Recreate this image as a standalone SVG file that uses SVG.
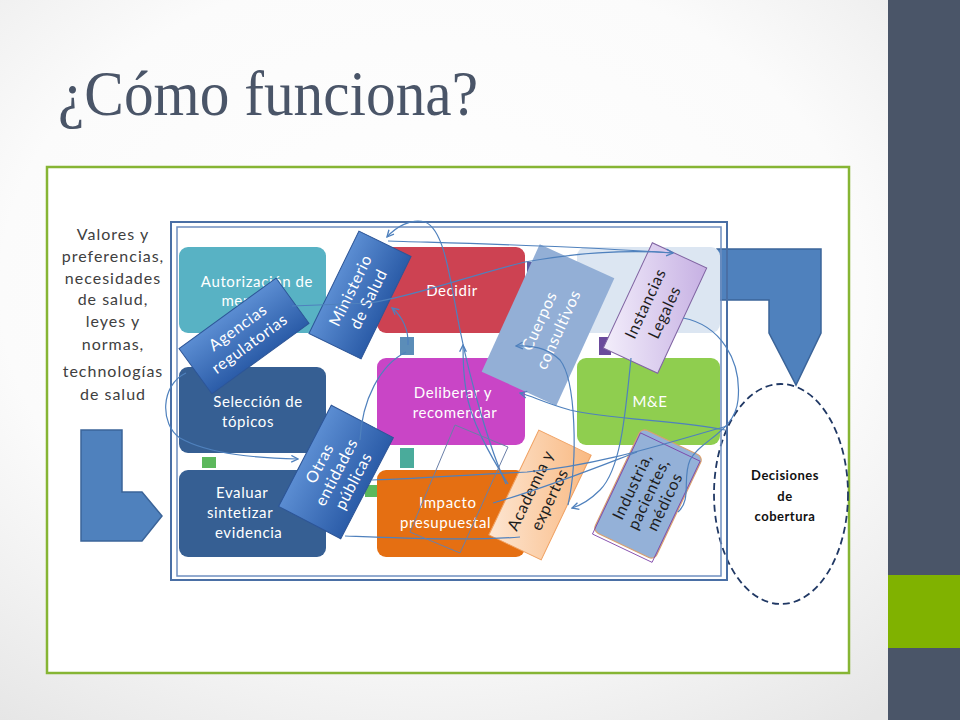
<svg xmlns="http://www.w3.org/2000/svg" width="960" height="720" viewBox="0 0 960 720">
<defs>
  <radialGradient id="bg" cx="0.45" cy="0.4" r="0.75">
    <stop offset="0" stop-color="#ffffff"/>
    <stop offset="0.6" stop-color="#fbfbfb"/>
    <stop offset="1" stop-color="#e6e6e6"/>
  </radialGradient>
  <linearGradient id="gBlue" x1="0" y1="0" x2="0" y2="1">
    <stop offset="0" stop-color="#5b8dd2"/>
    <stop offset="1" stop-color="#2b5ca8"/>
  </linearGradient>
  <linearGradient id="gLav" x1="0" y1="0" x2="1" y2="1">
    <stop offset="0" stop-color="#f3eefb"/>
    <stop offset="1" stop-color="#c6b0e3"/>
  </linearGradient>
  <linearGradient id="gPeach" x1="0" y1="0" x2="1" y2="1">
    <stop offset="0" stop-color="#fde6d2"/>
    <stop offset="1" stop-color="#f9b982"/>
  </linearGradient>
  <marker id="arr" viewBox="0 0 10 10" refX="9" refY="5" markerWidth="7" markerHeight="7" orient="auto-start-reverse">
    <path d="M1,1 L9,5 L1,9" fill="none" stroke="#4f81bd" stroke-width="1.6"/>
  </marker>
  <style>
    .lbl{font-family:Lato,"Liberation Sans",sans-serif;font-size:15px;fill:#ffffff;text-anchor:middle;letter-spacing:0.6px}
    .lbs{font-family:Lato,"Liberation Sans",sans-serif;font-size:15px;fill:#ffffff;letter-spacing:0.6px}
    .stk{font-family:Lato,"Liberation Sans",sans-serif;font-size:16px;text-anchor:middle;letter-spacing:0.6px}
    .w{fill:#ffffff}
    .k{fill:#1e1e1e}
    .side{font-family:Lato,"Liberation Sans",sans-serif;font-size:16px;fill:#404040;text-anchor:middle;letter-spacing:1px}
    .dec{font-family:Lato,"Liberation Sans",sans-serif;font-size:13px;font-weight:bold;fill:#111111;text-anchor:middle;letter-spacing:0.5px}
    .conn path{fill:none;stroke:#4f81bd;stroke-width:1.2}
    .box{stroke:none}
  </style>
</defs>

<!-- slide background -->
<rect x="0" y="0" width="960" height="720" fill="url(#bg)"/>
<rect x="888" y="0" width="72" height="720" fill="#4a5568"/>
<rect x="888" y="575" width="72" height="73" fill="#80b200"/>

<text x="58" y="115" font-family="'Liberation Serif',serif" font-size="64" fill="#4a5568" textLength="420" lengthAdjust="spacingAndGlyphs">¿Cómo funciona?</text>

<!-- picture frame -->
<rect x="47" y="167" width="802" height="506" fill="#ffffff" stroke="#86b534" stroke-width="2.5"/>

<!-- left inputs -->
<g id="inputs">
  <text class="side" x="113" y="240">Valores y</text>
  <text class="side" x="113" y="262">preferencias,</text>
  <text class="side" x="113" y="284">necesidades</text>
  <text class="side" x="113" y="305">de salud,</text>
  <text class="side" x="113" y="327">leyes y</text>
  <text class="side" x="113" y="350">normas,</text>
  <text class="side" x="113" y="377">technologías</text>
  <text class="side" x="113" y="400">de salud</text>
</g>
<g id="arrow-in">
  <polygon points="81,430 122,430 122,492 142,492 162,516 142,541 81,541" fill="#4f81bd" stroke="#3b6499" stroke-width="1.5"/>
</g>

<!-- coverage decisions -->
<g id="decisiones">
  <ellipse cx="781" cy="494" rx="67" ry="110" fill="none" stroke="#203864" stroke-width="1.8" stroke-dasharray="7,4"/>
  <text class="dec" x="785" y="480">Decisiones</text>
  <text class="dec" x="785" y="501">de</text>
  <text class="dec" x="785" y="521">cobertura</text>
</g>
<g id="arrow-out">
  <polygon points="717,249 821,249 821,333 796,385 769,333 769,300 717,300" fill="#4f81bd" stroke="#3b6499" stroke-width="1.5"/>
</g>

<!-- process boxes -->
<g id="autorizacion">
  <rect class="box" x="179" y="247" width="147" height="86" rx="9" fill="#58b2c4"/>
  <text class="lbl" x="257" y="287">Autorización de</text>
  <text class="lbl" x="252" y="306">mercado</text>
</g>
<g id="decidir">
  <rect class="box" x="377" y="247" width="148" height="86" rx="9" fill="#cd4252"/>
  <text class="lbl" x="452" y="296">Decidir</text>
</g>
<g id="implementar">
  <rect class="box" x="577" y="247" width="143" height="86" rx="9" fill="#dce6f2"/>
</g>
<g id="seleccion">
  <rect class="box" x="179" y="367" width="147" height="86" rx="9" fill="#365f93"/>
  <text class="lbl" x="258" y="407">Selección de</text>
  <text class="lbl" x="248" y="427">tópicos</text>
</g>
<g id="deliberar">
  <rect class="box" x="377" y="358" width="148" height="87" rx="9" fill="#c945c6"/>
  <text class="lbl" x="453" y="398">Deliberar y</text>
  <text class="lbl" x="455" y="418">recomendar</text>
</g>
<g id="mye">
  <rect class="box" x="577" y="358" width="143" height="87" rx="9" fill="#8fce4f"/>
  <text class="lbl" x="650" y="407">M&amp;E</text>
</g>
<g id="evaluar">
  <rect class="box" x="179" y="470" width="147" height="87" rx="9" fill="#365f93"/>
  <text class="lbs" x="216" y="498">Evaluar</text>
  <text class="lbs" x="207" y="518">sintetizar</text>
  <text class="lbs" x="215" y="538">evidencia</text>
</g>
<g id="impacto">
  <rect class="box" x="377" y="470" width="148" height="87" rx="9" fill="#e56f12"/>
  <text class="lbs" x="419" y="508">Impacto</text>
  <text class="lbs" x="400" y="528">presupuestal</text>
</g>
<g id="links">
  <rect x="202" y="457" width="14" height="11" fill="#5cb85c"/>
  <rect x="400" y="337" width="14" height="18" fill="#5b8db8"/>
  <rect x="400" y="448" width="14" height="20" fill="#4aab9b"/>
  <rect x="365" y="485" width="12" height="12" fill="#5cb85c"/>
  <rect x="527" y="262" width="8" height="11" fill="#5a5aa0"/>
  <rect x="599" y="337" width="12" height="18" fill="#6a4a9c"/>
</g>

<!-- process frame -->
<g id="frame" fill="none" stroke="#4a6fa5" stroke-width="2">
  <rect x="171" y="222" width="556" height="358"/>
  <rect x="177" y="227" width="544" height="349" stroke="#6f8fc0" stroke-width="1.5"/>
</g>

<!-- stakeholders -->
<g id="agencias" transform="translate(244,336) rotate(-36)">
  <rect x="-60" y="-28" width="120" height="56" fill="url(#gBlue)" stroke="#2d5597" stroke-width="1"/>
  <text class="stk w" x="0" y="-5">Agencias</text>
  <text class="stk w" x="0" y="15">regulatorias</text>
</g>
<g id="ministerio" transform="translate(360,295) rotate(-64)">
  <rect x="-57" y="-29" width="114" height="58" fill="url(#gBlue)" stroke="#2d5597" stroke-width="1"/>
  <text class="stk w" x="0" y="-5">Ministerio</text>
  <text class="stk w" x="0" y="15">de Salud</text>
</g>
<g id="otras" transform="translate(336,472) rotate(-62.5)">
  <rect x="-57" y="-35" width="114" height="70" fill="url(#gBlue)" stroke="#2d5597" stroke-width="1"/>
  <text class="stk w" x="0" y="-13">Otras</text>
  <text class="stk w" x="0" y="6">entidades</text>
  <text class="stk w" x="0" y="25">públicas</text>
</g>
<g id="cuerpos" transform="translate(548,325) rotate(-65.5)">
  <rect x="-70" y="-41" width="140" height="82" fill="#93afd6"/>
  <text class="stk w" x="0" y="-4">Cuerpos</text>
  <text class="stk w" x="0" y="17">consultivos</text>
</g>
<g id="instancias" transform="translate(655,308) rotate(-65)">
  <rect x="-58" y="-30" width="116" height="60" fill="url(#gLav)" stroke="#8064a2" stroke-width="1"/>
  <text class="stk k" x="0" y="-5">Instancias</text>
  <text class="stk k" x="0" y="16">Legales</text>
</g>
<g id="academia" transform="translate(540,495) rotate(-64.5)">
  <rect x="-58" y="-29" width="116" height="58" fill="url(#gPeach)" stroke="#f0a060" stroke-width="1"/>
  <text class="stk k" x="0" y="-5">Academia y</text>
  <text class="stk k" x="0" y="16">expertos</text>
</g>
<g id="industria" transform="translate(648,494) rotate(-64.6)">
  <rect x="-57" y="-34" width="114" height="68" rx="6" fill="#94b1d8" stroke="#d9a070" stroke-width="1.2"/>
  <rect x="-60" y="-33" width="112" height="66" fill="none" stroke="#7a3fa6" stroke-width="0.8"/>
  <text class="stk k" x="0" y="-12">Industria,</text>
  <text class="stk k" x="0" y="6">pacientes,</text>
  <text class="stk k" x="0" y="24">médicos</text>
</g>

<!-- connectors -->
<g id="connectors" class="conn">
  <path d="M292,306 L370,303 C420,295 470,275 525,262 C580,252 630,250 673,253" marker-end="url(#arr)"/>
  <path d="M388,241 C450,243 560,245 673,253"/>
  <path d="M506,484 C490,450 470,380 460,330 C450,280 445,230 425,222 C410,218 395,228 387,237" marker-end="url(#arr)"/>
  <path d="M508,484 C490,455 470,420 466,390 C463,372 463,358 463,345" marker-end="url(#arr)"/>
  <path d="M568,505 C578,460 576,380 560,360 C548,348 532,345 516,346" marker-end="url(#arr)"/>
  <path d="M631,358 C625,420 620,470 600,490 C590,500 582,505 572,508" marker-end="url(#arr)"/>
  <path d="M725,430 C680,420 610,420 570,410 C545,403 532,396 520,393" marker-end="url(#arr)"/>
  <path d="M683,318 C720,325 742,360 738,400 C735,432 700,440 690,460 C682,478 692,500 678,512"/>
  <path d="M186,373 C160,385 160,425 180,438 C210,455 260,458 298,459" marker-end="url(#arr)"/>
  <path d="M372,480 C430,478 480,474 527,472 C600,465 660,445 727,426"/>
  <path d="M345,536 C400,538 470,541 520,537"/>
  <path d="M493,503 C540,490 590,470 637,452"/>
  <path d="M406,352 C380,365 362,400 360,440"/>
  <path d="M408,345 C409,330 402,316 392,308" marker-end="url(#arr)"/>
  <polygon points="455,425 508,447 460,553 410,532" fill="none" stroke="#6a7fa8" stroke-width="1"/>
</g>
</svg>
